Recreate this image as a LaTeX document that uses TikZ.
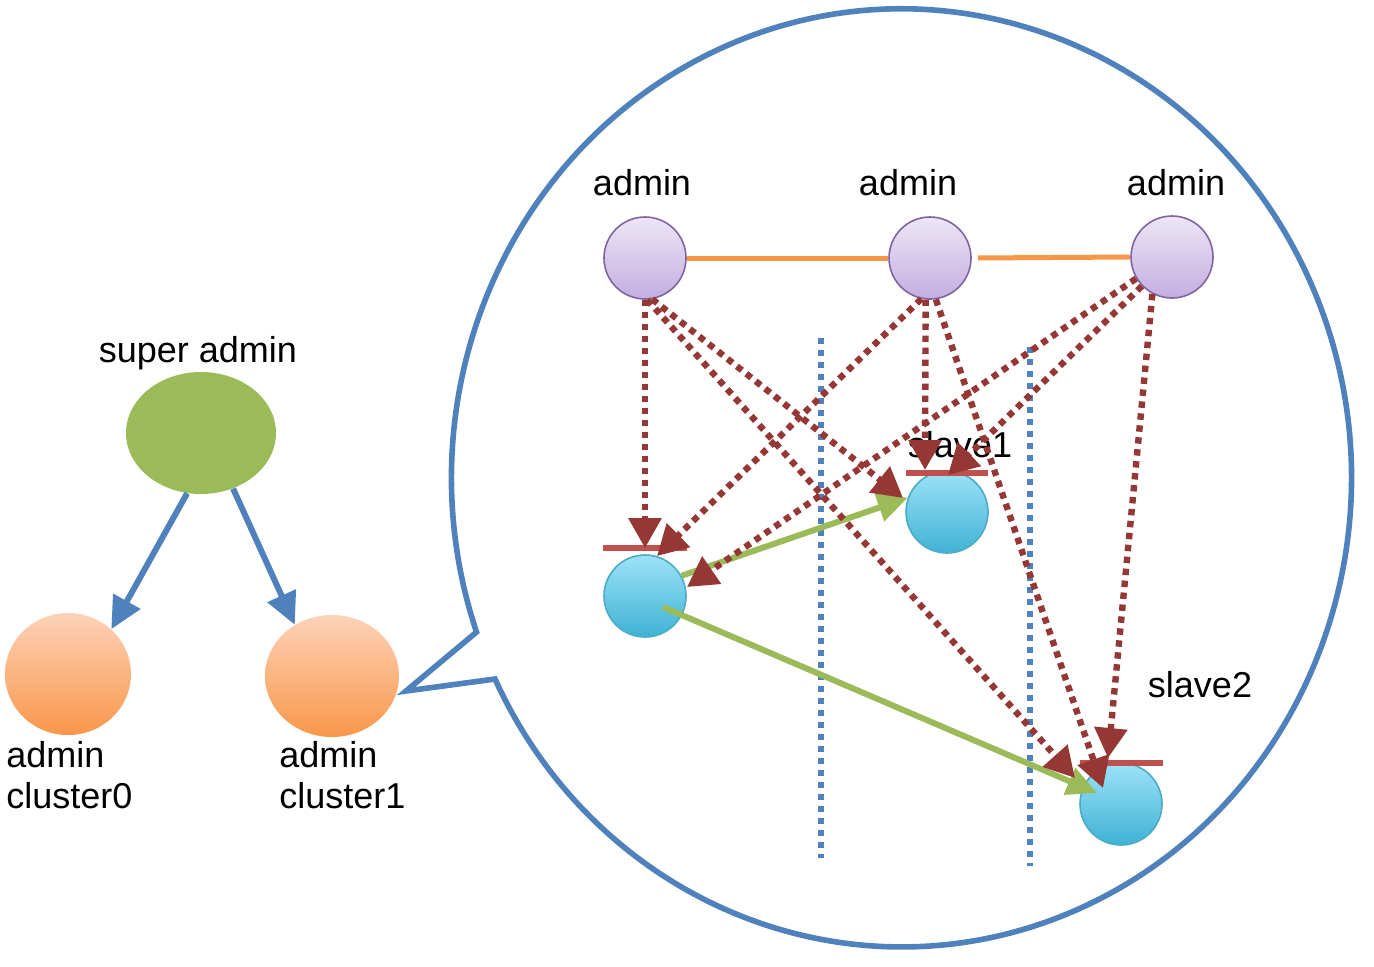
\documentclass[tikz,border=0pt]{standalone}
\usepackage{fontspec}
\setmainfont{Liberation Sans}
\usetikzlibrary{arrows.meta,shapes.geometric}
\definecolor{blueC}{HTML}{4F81BD}
\definecolor{orangeL}{HTML}{F79646}
\definecolor{darkred}{HTML}{953735}
\definecolor{barred}{HTML}{C0504D}
\definecolor{greenC}{HTML}{9BBB59}
\definecolor{purpleB}{HTML}{8064A2}
\definecolor{purpleT}{HTML}{EDE6F6}
\definecolor{purpleBot}{HTML}{C3AEDF}
\definecolor{cyanB}{HTML}{4BACC6}
\definecolor{cyanT}{HTML}{9DE2F8}
\definecolor{cyanBot}{HTML}{3FB2D4}
\definecolor{orT}{HTML}{FDD2B8}
\definecolor{orBot}{HTML}{F9974A}
\tikzset{
  lbl/.style={font=\fontsize{18}{20.5}\selectfont, inner sep=0pt},
  adminnode/.style={circle, minimum size=41pt, inner sep=0pt, draw=purpleB, line width=0.8pt, top color=purpleT, bottom color=purpleBot},
  slavenode/.style={circle, minimum size=41pt, inner sep=0pt, draw=cyanB, line width=0.8pt, top color=cyanT, bottom color=cyanBot},
  clusternode/.style={ellipse, inner sep=0pt, minimum height=61pt, top color=orT, bottom color=orBot},
  redarr/.style={draw=darkred, line width=3.2pt, dash pattern=on 3.2pt off 2.8pt, -{Triangle[length=15pt,width=16pt]}},
  greenarr/.style={draw=greenC, line width=3pt, -{Triangle[length=15pt,width=14pt]}},
  bluearr/.style={draw=blueC, line width=3pt, -{Triangle[length=16pt,width=15pt]}},
  bluedot/.style={draw=blueC, line width=2.6pt, dash pattern=on 2.8pt off 3.2pt},
  barline/.style={draw=barred, line width=3.2pt},
  peer/.style={draw=orangeL, line width=2.5pt},
  callout/.style={draw=blueC, line width=2.8pt, line join=miter}
}
\begin{document}
\begin{tikzpicture}[x=0.5pt, y=-0.5pt]
\useasboundingbox (0,0) rectangle (1374,966);

% callout balloon
\draw[callout] (495,679) arc[start angle=205.4, end angle=559.2, x radius=225pt, y radius=234.5pt] -- (406,691) -- cycle;

% left tree
\node[ellipse, fill=greenC, minimum width=75pt, minimum height=61pt, inner sep=0pt] (sa) at (201,433) {};
\node[clusternode, minimum width=63pt] (c0) at (68,674) {};
\node[clusternode, minimum width=67pt] (c1) at (332,676) {};
\node[lbl, anchor=base] (tsa) at (198,362) {super admin};
\node[lbl, anchor=north west, align=left] (tc0) at (6,741) {admin\\cluster0};
\node[lbl, anchor=north west, align=left] (tc1) at (279,741) {admin\\cluster1};
\draw[bluearr] (sa.-103) -- (c0.46);
\draw[bluearr] (sa.-60) -- (c1.126);

% separators
\coordinate (v1t) at (821,338); \coordinate (v1b) at (821,858);
\coordinate (v2t) at (1030,347); \coordinate (v2b) at (1030,866);
\draw[bluedot] (v1t) -- (v1b);
\draw[bluedot] (v2t) -- (v2b);

% admin nodes
\node[adminnode] (a1) at (645,258) {};
\node[adminnode] (a2) at (930,258) {};
\node[adminnode] (a3) at (1172,257) {};
\node[lbl, anchor=base] (ta1) at (642,195) {admin};
\node[lbl, anchor=base] (ta2) at (908,195) {admin};
\node[lbl, anchor=base] (ta3) at (1176,195) {admin};
\draw[peer] (a1.east) -- (a2.west);
\draw[peer, shorten <=3pt] (a2.east) -- (a3.west);

% slave nodes
\node[slavenode] (s0) at (645,596) {};
\node[slavenode] (s1) at (947,512) {};
\node[slavenode] (s2) at (1121,804) {};
\node[lbl, anchor=base] (ts1) at (960,457) {slave1};
\node[lbl, anchor=base] (ts2) at (1200,697) {slave2};

% bars
\coordinate (b0l) at (603,548); \coordinate (b0r) at (687,548);
\coordinate (b1l) at (906,473); \coordinate (b1r) at (988,473);
\coordinate (b2l) at (1080,763); \coordinate (b2r) at (1163,763);
\draw[barline] (b0l) -- (b0r);
\draw[barline] (b1l) -- (b1r);
\draw[barline] (b2l) -- (b2r);

% green replication arrows
\coordinate (g2s) at (663,607);
\coordinate (g2e) at (1097,793);
\draw[greenarr] (s0.29) -- (s1.160);
\draw[greenarr] (g2s) -- (g2e);

% dotted control arrows
\coordinate (t1) at (645,548);
\coordinate (t2) at (903,498);
\coordinate (t3) at (1075,778);
\coordinate (t4) at (657,556);
\coordinate (t5) at (925,470);
\coordinate (t6) at (1103,788);
\coordinate (t7) at (687,587);
\coordinate (t8) at (948,475);
\coordinate (t9) at (1108,758);
\draw[redarr] (a1.south) -- (t1);
\draw[redarr] (a1.-80) -- (t2);
\draw[redarr] (a1.-87) -- (t3);
\draw[redarr] (a2.-102) -- (t4);
\draw[redarr] (a2.-96) -- (t5);
\draw[redarr] (a2.-82) -- (t6);
\draw[redarr] (a3.-149) -- (t7);
\draw[redarr] (a3.-136) -- (t8);
\draw[redarr] (a3.-118) -- (t9);
\end{tikzpicture}
\end{document}
